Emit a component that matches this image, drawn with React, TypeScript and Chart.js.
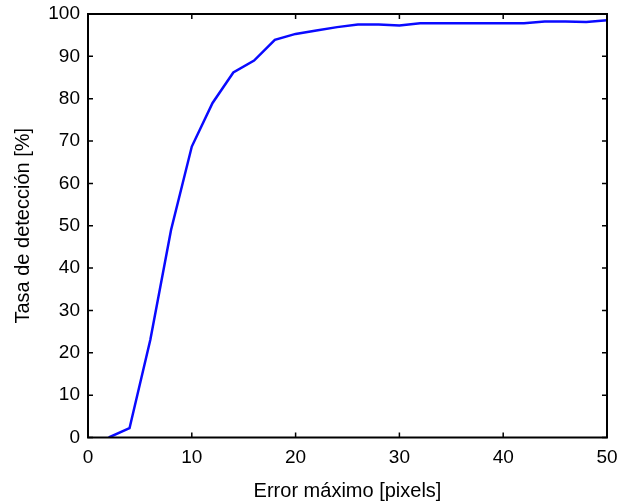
import React, { useEffect, useRef } from "react";
import { Chart, registerables } from "chart.js";

Chart.register(...registerables);

const errorPixels = [2, 4, 6, 8, 10, 12, 14, 16, 18, 20, 22, 24, 26, 28, 30, 32, 34, 36, 38, 40, 42, 44, 46, 48, 50];
const detectionRate = [0, 2.2, 23, 49, 68.7, 79, 86.2, 89, 93.9, 95.3, 96.1, 96.9, 97.5, 97.5, 97.3, 97.8, 97.8, 97.8, 97.8, 97.8, 97.8, 98.2, 98.2, 98.1, 98.5];
const xTicks = [0, 10, 20, 30, 40, 50];
const yTicks = [0, 10, 20, 30, 40, 50, 60, 70, 80, 90, 100];
const xTitle = "Error máximo [pixels]";
const yTitle = "Tasa de detección [%]";

const FONT = "'Liberation Sans', Arial, sans-serif";

const frameTicks = {
  id: "frameTicks",
  afterDraw(chart: any) {
    const { ctx, chartArea, scales } = chart;
    const { left, right, top, bottom } = chartArea;
    const len = 5;
    ctx.save();
    ctx.strokeStyle = "#000";
    ctx.lineWidth = 1.5;
    ctx.beginPath();
    for (const v of xTicks) {
      const px = scales.x.getPixelForValue(v);
      ctx.moveTo(px, bottom);
      ctx.lineTo(px, bottom - len);
      ctx.moveTo(px, top);
      ctx.lineTo(px, top + len);
    }
    for (const v of yTicks) {
      const py = scales.y.getPixelForValue(v);
      ctx.moveTo(left, py);
      ctx.lineTo(left + len, py);
      ctx.moveTo(right, py);
      ctx.lineTo(right - len, py);
    }
    ctx.stroke();
    ctx.lineWidth = 2;
    ctx.strokeRect(left, top, right - left, bottom - top);
    ctx.restore();
  },
};

export default function App() {
  const ref = useRef<HTMLCanvasElement>(null);
  useEffect(() => {
    const chart = new Chart(ref.current!, {
      type: "line",
      data: {
        datasets: [
          {
            data: errorPixels.map((x, i) => ({ x, y: detectionRate[i] })),
            borderColor: "#0a0aff",
            borderWidth: 2.5,
            pointRadius: 0,
            tension: 0,
          },
        ],
      },
      options: {
        animation: false,
        responsive: false,
        maintainAspectRatio: false,
        layout: { padding: { top: 14, right: 12, left: 0, bottom: 0 } },
        plugins: { legend: { display: false }, tooltip: { enabled: false } },
        scales: {
          x: {
            type: "linear",
            min: 0,
            max: 50,
            afterBuildTicks: (s: any) => {
              s.ticks = xTicks.map((v) => ({ value: v }));
            },
            afterFit: (s: any) => {
              s.height = 65.5;
              s.paddingLeft = 0;
              s.paddingRight = 0;
            },
            grid: { display: false, drawTicks: false },
            border: { display: false },
            ticks: { color: "#000", font: { family: FONT, size: 19 }, padding: 9, maxRotation: 0 },
            title: {
              display: true,
              text: xTitle,
              color: "#000",
              font: { family: FONT, size: 20 },
              padding: { top: 0, bottom: 0 },
            },
          },
          y: {
            type: "linear",
            min: 0,
            max: 100,
            afterBuildTicks: (s: any) => {
              s.ticks = yTicks.map((v) => ({ value: v }));
            },
            afterFit: (s: any) => {
              s.width = 88;
              s.paddingTop = 0;
              s.paddingBottom = 0;
            },
            grid: { display: false, drawTicks: false },
            border: { display: false },
            ticks: { color: "#000", font: { family: FONT, size: 19 }, padding: 8 },
            title: {
              display: true,
              text: yTitle,
              color: "#000",
              font: { family: FONT, size: 20 },
              padding: { top: 11, bottom: 0 },
            },
          },
        },
      },
      plugins: [frameTicks],
    });
    return () => chart.destroy();
  }, []);
  return (
    <div style={{ position: "fixed", left: 0, top: 0, width: 619, height: 503, background: "#fff" }}>
      <canvas ref={ref} width={619} height={503} style={{ width: 619, height: 503 }} />
    </div>
  );
}
